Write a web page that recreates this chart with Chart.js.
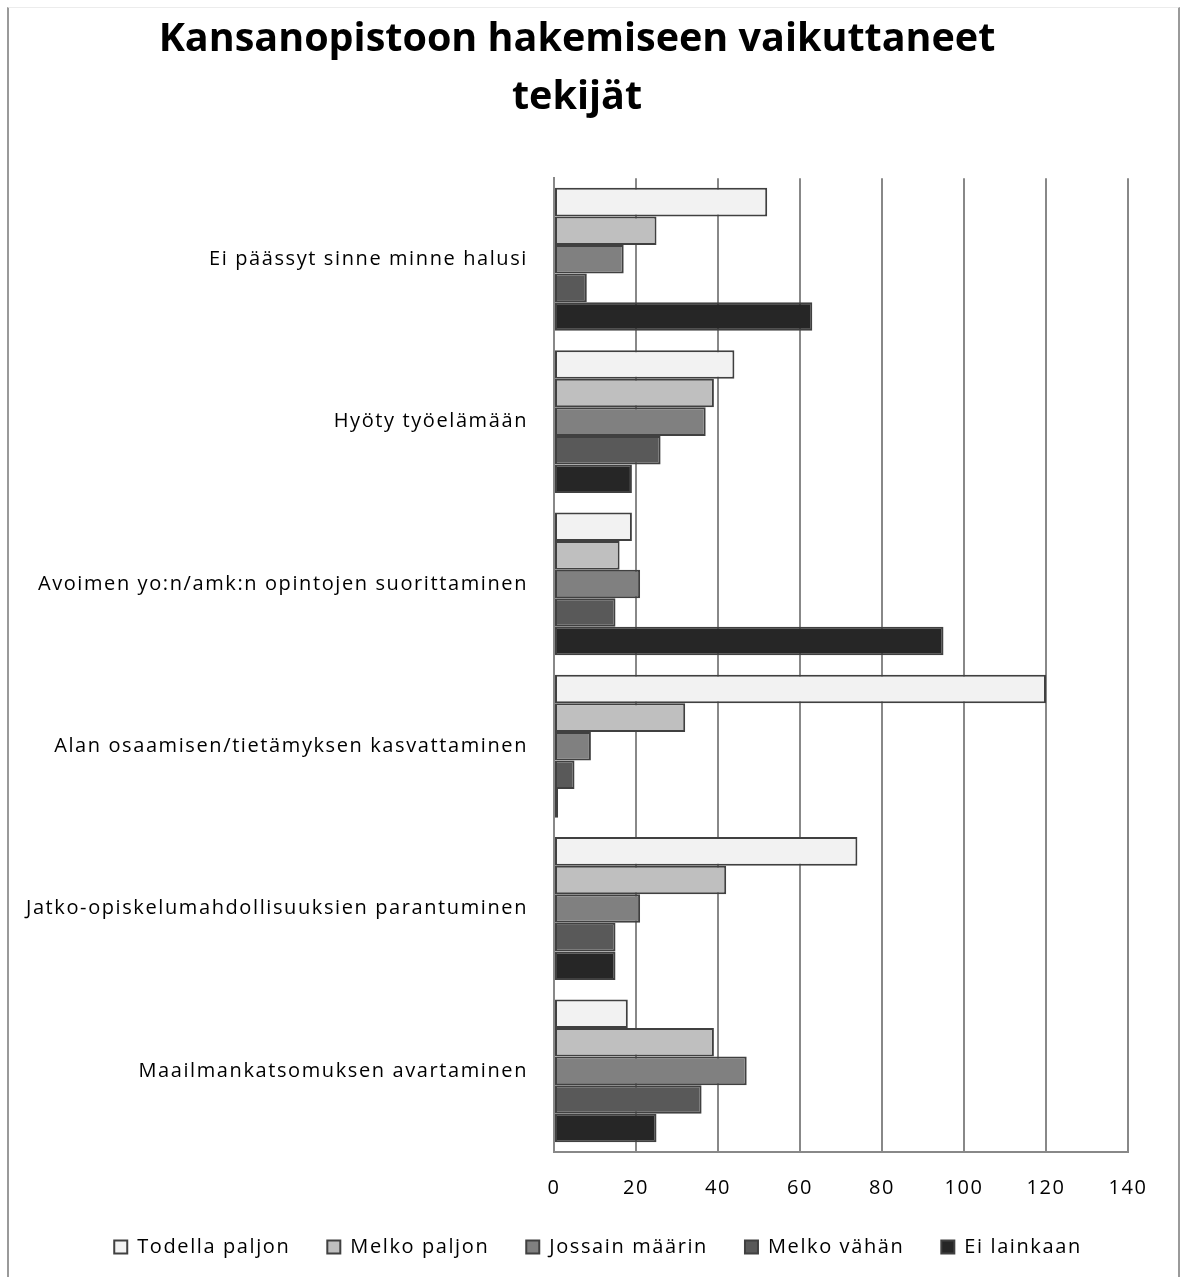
<!DOCTYPE html>
<html lang="fi">
<head>
    <meta charset="UTF-8">
    <title>Kansanopistoon hakemiseen vaikuttaneet tekijät</title>
    <script src="https://cdn.jsdelivr.net/npm/chart.js"></script>
    <style>
        body { margin: 0; background: #fff; }
        #wrap { position: relative; width: 1181px; height: 1277px; overflow: hidden; }
        #frame {
            position: absolute; left: 7px; top: 7px; width: 1169px; height: 1300px;
            border-left: 2px solid #9a9a9a; border-right: 2px solid #9a9a9a; border-top: 1px solid #ececec;
        }
        canvas { position: absolute; left: 0; top: 0; }
    </style>
</head>
<body>
<div id="wrap">
    <div id="frame"></div>
    <canvas id="chart" width="1181" height="1277"></canvas>
</div>
<script>
    // Categories (top to bottom) and series values
    var categories = [
        'Ei päässyt sinne minne halusi',
        'Hyöty työelämään',
        'Avoimen yo:n/amk:n opintojen suorittaminen',
        'Alan osaamisen/tietämyksen kasvattaminen',
        'Jatko-opiskelumahdollisuuksien parantuminen',
        'Maailmankatsomuksen avartaminen'
    ];
    var todellaPaljon = [52, 44, 19, 120, 74, 18];
    var melkoPaljon   = [25, 39, 16, 32, 42, 39];
    var jossainMaarin = [17, 37, 21, 9, 21, 47];
    var melkoVahan    = [8, 26, 15, 5, 15, 36];
    var eiLainkaan    = [63, 19, 95, 1, 15, 25];
    var xTicks = [0, 20, 40, 60, 80, 100, 120, 140];

    var fontFamily = "'Open Sans', 'Noto Sans', sans-serif";
    var gridGray = '#888888';
    var spacing = '1.6px';

    function series(label, data, color) {
        return {
            label: label,
            data: data,
            backgroundColor: color,
            borderColor: '#404040',
            borderWidth: 2,
            borderSkipped: false,
            categoryPercentage: 0.88,
            barPercentage: 1.0
        };
    }

    // loose letter spacing like the original; title and legend nudged sideways
    function shift(box, dx, letters) {
        var orig = box.draw;
        box.draw = function () {
            var c = this.ctx;
            c.save();
            c.translate(dx, 0);
            if (letters) c.letterSpacing = letters;
            orig.apply(this, arguments);
            c.restore();
        };
    }
    var tweakPlugin = {
        id: 'tweak',
        afterInit: function (chart) {
            shift(chart.legend, 34);
            shift(chart.titleBlock, 13, '0px');
        },
        beforeUpdate: function (chart) { chart.ctx.letterSpacing = spacing; },
        beforeDraw: function (chart) { chart.ctx.letterSpacing = spacing; }
    };

    var ctx = document.getElementById('chart').getContext('2d');
    var chart = new Chart(ctx, {
        type: 'bar',
        data: {
            labels: categories,
            datasets: [
                series('Todella paljon', todellaPaljon, '#f2f2f2'),
                series('Melko paljon', melkoPaljon, '#bfbfbf'),
                series('Jossain määrin', jossainMaarin, '#808080'),
                series('Melko vähän', melkoVahan, '#595959'),
                series('Ei lainkaan', eiLainkaan, '#262626')
            ]
        },
        plugins: [tweakPlugin],
        options: {
            indexAxis: 'y',
            responsive: false,
            animation: false,
            layout: { padding: { left: 0, right: 53, top: 0, bottom: 10 } },
            plugins: {
                title: {
                    display: true,
                    text: ['Kansanopistoon hakemiseen vaikuttaneet', 'tekijät'],
                    color: '#000',
                    font: { family: fontFamily, size: 39.5, weight: 'bold', lineHeight: 1.47 },
                    padding: { top: 11, bottom: 51 }
                },
                legend: {
                    position: 'bottom',
                    labels: {
                        color: '#000',
                        font: { family: fontFamily, size: 20 },
                        boxWidth: 13,
                        boxHeight: 13,
                        padding: 37
                    }
                },
                tooltip: { enabled: false }
            },
            scales: {
                x: {
                    min: 0,
                    max: 140,
                    afterBuildTicks: function (scale) {
                        scale.ticks = xTicks.map(function (v) { return { value: v }; });
                    },
                    afterFit: function (scale) { scale.height = 48; },
                    grid: { color: gridGray, lineWidth: 2, drawTicks: false },
                    border: { color: gridGray, width: 2 },
                    ticks: { color: '#000', font: { family: fontFamily, size: 20 }, padding: 24 }
                },
                y: {
                    afterFit: function (scale) { scale.width = 554; },
                    grid: { display: false, drawTicks: false },
                    border: { color: gridGray, width: 2 },
                    ticks: { color: '#000', font: { family: fontFamily, size: 20 }, padding: 26 }
                }
            }
        }
    });
</script>
</body>
</html>
